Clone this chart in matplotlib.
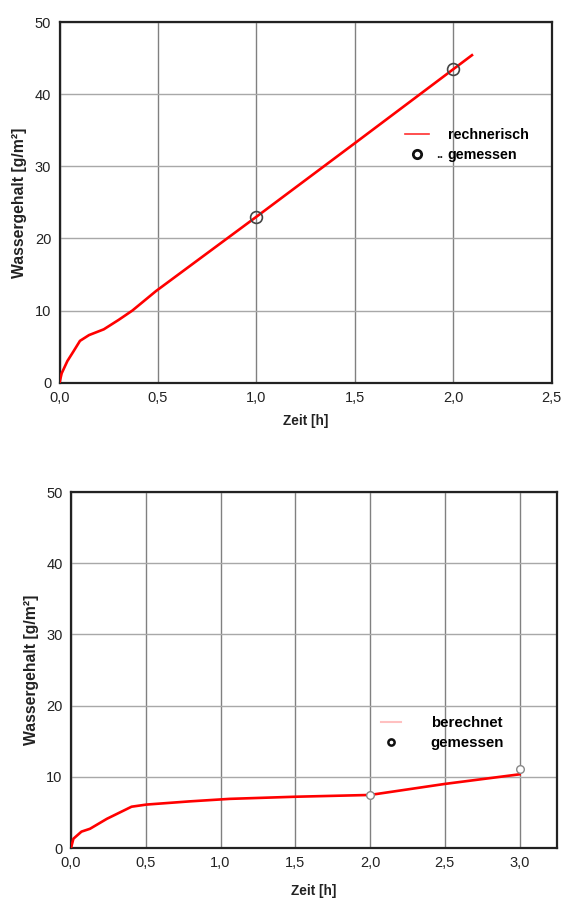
import matplotlib
matplotlib.use("Agg")
import matplotlib.pyplot as plt
from matplotlib.lines import Line2D
from matplotlib.ticker import FuncFormatter, MultipleLocator

plt.rcParams['font.family'] = ['Liberation Sans', 'DejaVu Sans']

# --- data (top chart) ---
top_t = [0, 0.011, 0.04, 0.07, 0.104, 0.15, 0.225, 0.30, 0.37, 0.49, 1.0, 1.5, 2.095]
top_w = [0, 1.3, 3.0, 4.3, 5.8, 6.6, 7.4, 8.7, 10.0, 12.7, 23.0, 33.2, 45.4]
top_meas_t = [1.0, 2.0]
top_meas_w = [23.0, 43.5]
top_labels = ["rechnerisch", "gemessen"]

# --- data (bottom chart) ---
bot_t = [0, 0.016, 0.07, 0.127, 0.24, 0.405, 0.505, 0.795, 1.06, 1.5, 2.0, 2.5, 3.0]
bot_w = [0, 1.3, 2.3, 2.7, 4.1, 5.8, 6.1, 6.55, 6.9, 7.2, 7.45, 9.0, 10.35]
bot_meas_t = [2.0, 3.0]
bot_meas_w = [7.45, 11.05]
bot_labels = ["berechnet", "gemessen"]

xlabel = "Zeit [h]"
ylabel = "Wassergehalt [g/m²]"

W, H = 563, 898
fig = plt.figure(figsize=(W / 100, H / 100), dpi=100)


def pix_axes(l, t, r, b):
    return fig.add_axes([l / W, 1 - b / H, (r - l) / W, (b - t) / H])


comma = FuncFormatter(lambda v, p: f"{v:.1f}".replace(".", ","))


def style(ax, xmax, xlab_y, ylab_x):
    ax.set_xlim(0, xmax)
    ax.set_ylim(0, 50)
    ax.xaxis.set_major_locator(MultipleLocator(0.5))
    ax.yaxis.set_major_locator(MultipleLocator(10))
    ax.xaxis.set_major_formatter(comma)
    ax.tick_params(length=0, labelsize=10.5, pad=6, colors="#222222")
    ax.xaxis.grid(True, color="#808080", lw=1.0)
    ax.yaxis.grid(True, color="#a8a8a8", lw=1.0)
    ax.set_axisbelow(True)
    for s in ax.spines.values():
        s.set_color("#222222")
        s.set_linewidth(1.6)
    ax.set_xlabel(xlabel, fontsize=9.8, fontweight="bold", color="#222222")
    ax.set_ylabel(ylabel, fontsize=11.3, fontweight="bold", color="#222222")
    ax.yaxis.set_label_coords(ylab_x, 0.5)
    ax.xaxis.set_label_coords(0.5, xlab_y)


# top chart
ax1 = pix_axes(59.5, 22, 551.7, 382.7)
style(ax1, 2.5, -0.088, -0.066)
ax1.plot(top_t, top_w, color="#ff0000", lw=1.9, zorder=3)
ax1.plot(top_meas_t, top_meas_w, ls="none", marker="o", ms=8.5,
         mfc="none", mec="#444444", mew=1.2, zorder=4)
h1 = [Line2D([], [], color="#ff3030", lw=1.2),
      Line2D([], [], ls="none", marker="o", ms=6, mfc="none", mec="#111111", mew=2.0)]
ax1.legend(h1, top_labels, loc="upper left", bbox_to_anchor=(0.687, 0.726),
           frameon=False, prop={"weight": "bold", "size": 10.3},
           handlelength=1.7, handletextpad=1.3, labelspacing=0.39, borderpad=0)
ax1.text(0.766, 0.63, "..", transform=ax1.transAxes, fontsize=9, fontweight="bold",
         color="#222222", ha="left", va="center")

# bottom chart
ax2 = pix_axes(71, 492, 557, 848)
style(ax2, 3.25, -0.101, -0.0655)
ax2.plot(bot_t, bot_w, color="#ff0000", lw=1.9, zorder=3)
ax2.plot(bot_meas_t, bot_meas_w, ls="none", marker="o", ms=5.5,
         mfc="white", mec="#888888", mew=1.0, zorder=4, clip_on=False)
h2 = [Line2D([], [], color="#ffc0c0", lw=1.5),
      Line2D([], [], ls="none", marker="o", ms=4.5, mfc="none", mec="#111111", mew=1.8)]
ax2.legend(h2, bot_labels, loc="upper left", bbox_to_anchor=(0.622, 0.392),
           frameon=False, prop={"weight": "bold", "size": 10.8},
           handlelength=1.33, handletextpad=2.0, labelspacing=0.42, borderpad=0)

fig.savefig("out.png", dpi=100)
